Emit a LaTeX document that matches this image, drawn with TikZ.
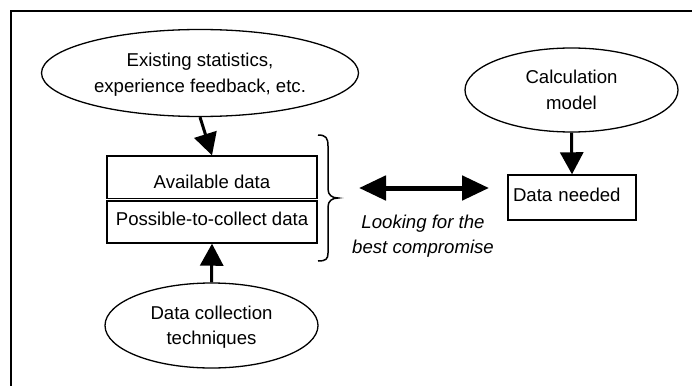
\documentclass[tikz,border=0pt]{standalone}
\usepackage{fontspec}
\setmainfont{Liberation Sans}
\usetikzlibrary{arrows.meta,shapes.geometric}
\begin{document}
\begin{tikzpicture}[x=1pt,y=-1pt,
  every node/.style={font=\fontsize{18.6}{25.5}\selectfont, text=black},
  oval/.style={ellipse,draw,line width=1.3pt,inner sep=0pt,align=center,text depth=0pt},
  databox/.style={rectangle,draw,line width=1.4pt,inner sep=0pt},
  capmid/.style={text height=0.95em,text depth=0.23em},
  bigarrow/.style={line width=3pt,-{Triangle[length=22pt,width=23pt]}},
  dblarrow/.style={line width=5pt,{Triangle[length=27pt,width=24pt]}-{Triangle[length=27pt,width=24pt]}},
  frameline/.style={line width=1.5pt},
  bracestyle/.style={line width=1.5pt}
]
\useasboundingbox (0,0) rectangle (692,385);
% frame (top and left edges only)
\coordinate (fbl) at (11,386);
\coordinate (ftl) at (11,11);
\coordinate (ftr) at (693,11);
\draw[frameline] (fbl) -- (ftl) -- (ftr);

% ellipses
\node[oval,minimum width=317pt,minimum height=87pt] (stats) at (200,73)
  {Existing statistics,\\experience feedback, etc.};
\node[oval,minimum width=213pt,minimum height=84pt] (model) at (571.5,90)
  {Calculation\\model};
\node[oval,minimum width=213pt,minimum height=85pt] (tech) at (211.5,325.5)
  {Data collection\\techniques};

% boxes
\node[databox,minimum width=210pt,minimum height=42.3pt,text height=26.3pt,text depth=4.3pt] (avail) at (212,177.2) {Available data};
\node[databox,capmid,minimum width=210pt,minimum height=42pt] (poss) at (212,222) {Possible-to-collect data};
\node[databox,capmid,minimum width=128pt,minimum height=45pt,text width=118pt,inner xsep=5pt,align=left] (needed) at (572,197.5) {Data needed};

% brace
\coordinate (bt) at (318,135);
\coordinate (bm) at (338,198);
\coordinate (bb) at (318,261);
\draw[bracestyle] (bt) .. controls (326,135) and (328,138) .. (328,146) -- (328,189)
  .. controls (328,195) and (332,198) .. (bm)
  .. controls (332,198) and (328,201) .. (328,207) -- (328,253)
  .. controls (328,259) and (326,261) .. (bb);

% compromise arrow and label
\coordinate (dl) at (359,188);
\coordinate (dr) at (489,188);
\draw[dblarrow] (dl) -- (dr);
\node[align=center,font=\fontsize{18.6}{25.5}\selectfont\itshape] (lbl) at (423,236)
  {Looking for the\\best compromise};

% arrows
\draw[bigarrow] (stats.south) -- (avail.north);
\draw[bigarrow] (tech.north) -- (poss.south);
\draw[bigarrow] (model.south) -- (needed.north);
\end{tikzpicture}
\end{document}
